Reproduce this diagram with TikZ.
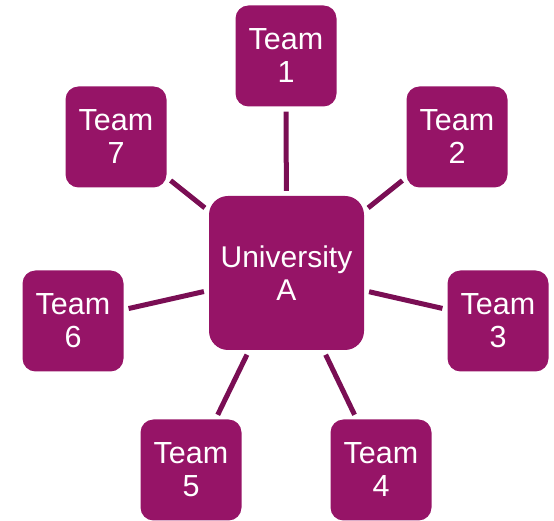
\documentclass[tikz,border=0pt]{standalone}
\usepackage{fontspec}
\setmainfont{Liberation Sans}
\definecolor{boxfill}{RGB}{150,20,103}
\definecolor{linecol}{RGB}{122,14,84}
\begin{document}
\begin{tikzpicture}[x=1pt,y=1pt,
  team/.style={fill=boxfill, draw=none, rounded corners=13pt, minimum width=101pt, minimum height=101pt, inner sep=0pt, text=white, align=center, font=\fontsize{30.5}{33}\selectfont},
  hub/.style={fill=boxfill, draw=none, rounded corners=19pt, minimum width=155pt, minimum height=154pt, inner sep=0pt, text=white, align=center, font=\fontsize{30}{33}\selectfont},
  conn/.style={draw=linecol, line width=5pt, shorten >=5pt, shorten <=5pt}]
\useasboundingbox (0,0) rectangle (554,521);
\node[hub] (uni) at (286.5,248) {University\\A};
\node[team] (t1) at (286,465) {Team\\1};
\node[team] (t2) at (457,384) {Team\\2};
\node[team] (t3) at (498,200) {Team\\3};
\node[team] (t4) at (381,51) {Team\\4};
\node[team] (t5) at (191,51) {Team\\5};
\node[team] (t6) at (73,200) {Team\\6};
\node[team] (t7) at (116,384) {Team\\7};
\foreach \t in {t1,t2,t3,t4,t5,t6,t7} \draw[conn] (uni) -- (\t);
\end{tikzpicture}
\end{document}
